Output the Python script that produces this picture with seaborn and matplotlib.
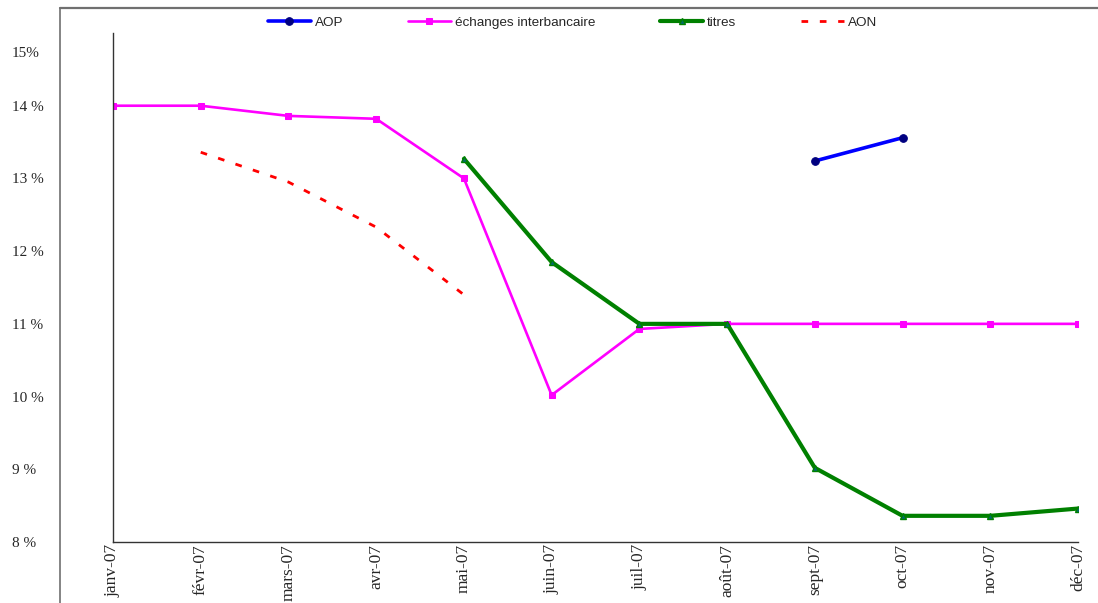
import numpy as np
import pandas as pd
import matplotlib
matplotlib.use("Agg")
import matplotlib.pyplot as plt
import matplotlib.transforms as mtransforms
from matplotlib.lines import Line2D
import seaborn as sns

# data (taux en %)
months = ['janv-07', 'févr-07', 'mars-07', 'avr-07', 'mai-07', 'juin-07',
          'juil-07', 'août-07', 'sept-07', 'oct-07', 'nov-07', 'déc-07']
aop = [np.nan] * 8 + [13.24, 13.56, np.nan, np.nan]
echanges = [14.0, 14.0, 13.86, 13.82, 13.0, 10.02, 10.93, 11.0, 11.0, 11.0, 11.0, 11.0]
titres = [np.nan] * 4 + [13.27, 11.85, 11.0, 11.0, 9.02, 8.36, 8.36, 8.46]
aon = [np.nan, 13.36, 12.95, 12.33, 11.4] + [np.nan] * 7
ytick_vals = [8, 9, 10, 11, 12, 13, 14, 15]
ytick_labels = ['8 %', '9 %', '10 %', '11 %', '12 %', '13 %', '14 %', '15%']

sns.set_style('white')
plt.rcParams['font.family'] = ['Liberation Serif', 'DejaVu Serif']

df = pd.DataFrame({'mois': np.arange(len(months)), 'AOP': aop,
                   'échanges interbancaire': echanges, 'titres': titres, 'AON': aon})

fig = plt.figure(figsize=(10.98, 6.03), dpi=100)
ax = fig.add_axes([113 / 1098, 61 / 603, 965 / 1098, 509 / 603])

sns.lineplot(data=df, x='mois', y='AOP', ax=ax, color='#0000FF', lw=2.6,
             marker='o', ms=5.5, mfc='#000080', mec='#000080', label='AOP')
sns.lineplot(data=df, x='mois', y='échanges interbancaire', ax=ax, color='#FF00FF', lw=1.9,
             marker='s', ms=5, mfc='#FF00FF', mec='#FF00FF', label='échanges interbancaire')
sns.lineplot(data=df, x='mois', y='titres', ax=ax, color='#008000', lw=3.0,
             marker='^', ms=5, mfc='#006a6a', mec='#008000', mew=1, label='titres')
sns.lineplot(data=df, x='mois', y='AON', ax=ax, color='#FF0000', lw=2.0,
             dashes=(2.4, 4.2), label='AON')

ax.set_xlim(0, len(months) - 1)
ax.set_ylim(8, 15)
ax.set_xticks(np.arange(len(months)))
ax.set_xticklabels(months, rotation=90, fontsize=12.5)
ax.set_yticks(ytick_vals)
ax.set_yticklabels(ytick_labels, fontsize=11, ha='left')
ax.tick_params(axis='y', length=3.6, width=1, pad=69, color='#333333')
ax.tick_params(axis='x', length=3.6, width=1, pad=-2, color='#333333')
ax.set_xlabel('')
ax.set_ylabel('')
for s in ['top', 'right']:
    ax.spines[s].set_visible(False)
for s in ['left', 'bottom']:
    ax.spines[s].set_color('#333333')
    ax.spines[s].set_linewidth(1)

# the "15%" label sits lower in the reference
lab = ax.get_yticklabels()[-1]
lab.set_transform(lab.get_transform() + mtransforms.ScaledTranslation(0, -0.19, fig.dpi_scale_trans))

ax.get_legend().remove()
handles, labels = ax.get_legend_handles_labels()
leg = fig.legend(handles, labels, loc='center', bbox_to_anchor=(0.5215, 0.963), ncol=4,
                 frameon=False, handlelength=3.2, handletextpad=0.3, columnspacing=4.8,
                 prop={'family': 'Liberation Sans', 'size': 9.7})

# outer chart frame
fig.add_artist(Line2D([60 / 1098, 1.0], [1 - 8 / 603, 1 - 8 / 603], color='#707070', lw=1.6,
                      transform=fig.transFigure))
fig.add_artist(Line2D([60 / 1098, 60 / 1098], [0, 1 - 8 / 603], color='#707070', lw=1.2,
                      transform=fig.transFigure))

fig.savefig('out.png', dpi=100)
